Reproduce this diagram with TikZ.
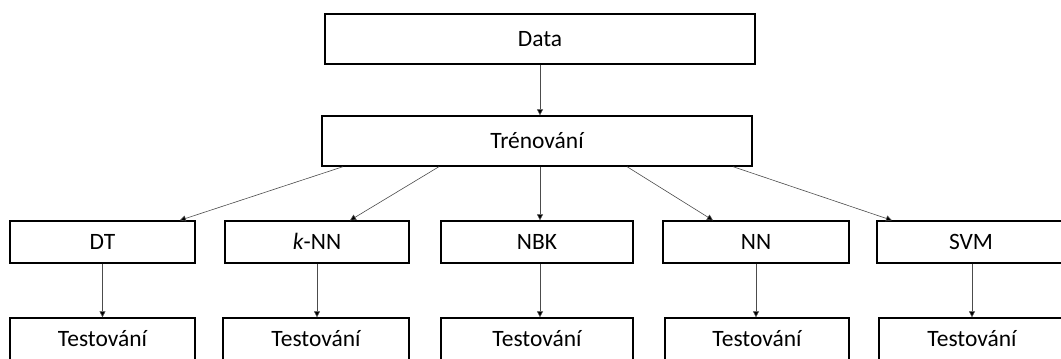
\documentclass[tikz,border=0pt]{standalone}
\usepackage{fontspec}
\setmainfont{Carlito}
\usetikzlibrary{arrows.meta}
\tikzset{
	box/.style={draw,line width=1pt,rectangle,inner sep=0pt,text height=11.3pt,text depth=0pt,
		font=\fontsize{17.6}{20}\selectfont},
	arr/.style={line width=0.45pt,draw=black!70,-{Triangle[length=4.5pt,width=4.5pt,fill=black]}}
}
\begin{document}
\begin{tikzpicture}[x=0.75pt,y=-0.75pt]
		\clip (0,0) rectangle (1061,358);
		\node[box,minimum width=322.5pt,minimum height=37.5pt] (data) at (540,39) {Data};
		\node[box,minimum width=322.5pt,minimum height=37.5pt] (tren) at (537,141) {Trénování};
		\node[box,minimum width=138.75pt,minimum height=31.5pt] (dt) at (102.5,242) {DT};
		\node[box,minimum width=138pt,minimum height=31.5pt] (knn) at (317,242) {\textit{k}-NN};
		\node[box,minimum width=144pt,minimum height=31.5pt] (nbk) at (537,242) {NBK};
		\node[box,minimum width=139.5pt,minimum height=31.5pt] (nn) at (756,242) {NN};
		\node[box,minimum width=141pt,minimum height=31.5pt] (svm) at (971,242) {SVM};
		\node[box,minimum width=138.75pt,minimum height=31.5pt] (tdt) at (102.5,339) {Testování};
		\node[box,minimum width=139.5pt,minimum height=31.5pt] (tknn) at (316,339) {Testování};
		\node[box,minimum width=144pt,minimum height=31.5pt] (tnbk) at (537,339) {Testování};
		\node[box,minimum width=138pt,minimum height=31.5pt] (tnn) at (757,339) {Testování};
		\node[box,minimum width=139.5pt,minimum height=31.5pt] (tsvm) at (972,339) {Testování};
		% training
		\draw[arr] (data.south) -- (data.south |- tren.north);
		\draw[arr] ([xshift=-145.5pt]tren.south) -- ([xshift=58pt]dt.north);
		\draw[arr] ([xshift=-73.5pt]tren.south) -- ([xshift=24.75pt]knn.north);
		\draw[arr] ([xshift=2.25pt]tren.south) -- ([xshift=2.25pt]nbk.north);
		\draw[arr] ([xshift=67.5pt]tren.south) -- ([xshift=-32.25pt]nn.north);
		\draw[arr] ([xshift=147pt]tren.south) -- ([xshift=-59.25pt]svm.north);
		% testing
		\draw[arr] (dt.south) -- (dt.south |- tdt.north);
		\draw[arr] (knn.south) -- (knn.south |- tknn.north);
		\draw[arr] ([xshift=2.25pt]nbk.south) -- ([xshift=2.25pt]tnbk.north);
		\draw[arr] (nn.south) -- (nn.south |- tnn.north);
		\draw[arr] ([xshift=0.75pt]svm.south) -- ([xshift=0.75pt]svm.south |- tsvm.north);
	\end{tikzpicture}
\end{document}
